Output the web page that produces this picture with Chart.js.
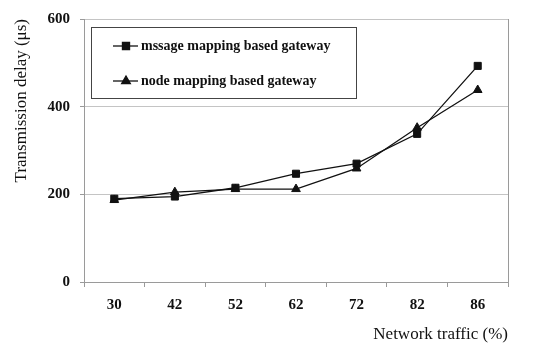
<!DOCTYPE html>
<html><head><meta charset="utf-8">
<script src="https://cdn.jsdelivr.net/npm/chart.js@4.4.1/dist/chart.umd.min.js"></script>
<style>html,body{margin:0;padding:0;background:#fff}#wrap{width:541px;height:347px;position:relative}</style>
</head><body><div id="wrap"><canvas id="c"></canvas></div>
<script>
const categories = ['30','42','52','62','72','82','86'];
const messageMapping = [190, 195, 215, 247, 270, 338, 493];
const nodeMapping = [187, 205, 212, 212, 259, 352, 438];
const yTicks = [0, 200, 400, 600];
const seriesLabels = ['mssage mapping based gateway', 'node mapping based gateway'];

const serif = "'Liberation Serif', 'Times New Roman', serif";
const gridGray = '#c4c4c4';

const frame = {
  id: 'frame',
  beforeDatasetsDraw(chart) {
    const {ctx, chartArea: a} = chart;
    ctx.save();
    ctx.strokeStyle = '#9a9a9a';
    ctx.lineWidth = 1;
    ctx.beginPath();
    ctx.moveTo(Math.round(a.right) + 0.5, a.top);
    ctx.lineTo(Math.round(a.right) + 0.5, a.bottom);
    ctx.stroke();
    ctx.restore();
  }
};

const boxLegend = {
  id: 'boxLegend',
  afterDraw(chart) {
    const {ctx} = chart;
    const bx = 91, by = 27, bw = 265, bh = 71;
    ctx.save();
    ctx.fillStyle = '#fff';
    ctx.fillRect(bx, by, bw, bh);
    ctx.strokeStyle = '#444';
    ctx.lineWidth = 1;
    ctx.strokeRect(bx + 0.5, by + 0.5, bw, bh);
    const rows = [46, 81];
    chart.data.datasets.forEach((ds, i) => {
      const y = rows[i];
      ctx.strokeStyle = '#111';
      ctx.lineWidth = 1.3;
      ctx.beginPath();
      ctx.moveTo(113, y);
      ctx.lineTo(138, y);
      ctx.stroke();
      ctx.fillStyle = '#111';
      Chart.helpers.drawPoint(ctx, {pointStyle: ds.pointStyle, radius: ds.pointRadius, borderWidth: 1, rotation: 0}, 126, y);
      ctx.fillStyle = '#111';
      ctx.font = 'bold 14px ' + serif;
      ctx.textBaseline = 'middle';
      ctx.textAlign = 'left';
      ctx.fillText(ds.label, 141, y);
    });
    ctx.restore();
  }
};

new Chart(document.getElementById('c'), {
  type: 'line',
  data: {
    labels: categories,
    datasets: [
      {label: seriesLabels[0], data: messageMapping, borderColor: '#111', backgroundColor: '#111',
       borderWidth: 1.3, pointStyle: 'rect', pointRadius: 5, pointBorderWidth: 1, tension: 0},
      {label: seriesLabels[1], data: nodeMapping, borderColor: '#111', backgroundColor: '#111',
       borderWidth: 1.3, pointStyle: 'triangle', pointRadius: 5, pointBorderWidth: 1, tension: 0}
    ]
  },
  options: {
    responsive: true,
    maintainAspectRatio: false,
    animation: false,
    devicePixelRatio: 1,
    layout: {padding: {top: 19, right: 33, bottom: 2, left: 0}},
    plugins: {legend: {display: false}, tooltip: {enabled: false}},
    scales: {
      x: {
        offset: true,
        grid: {offset: true, drawOnChartArea: false, color: gridGray, tickLength: 5, tickColor: '#9a9a9a'},
        border: {color: '#9a9a9a'},
        ticks: {color: '#111', font: {family: serif, size: 15, weight: 'bold'}, padding: 9},
        title: {display: true, text: 'Network traffic (%)', align: 'end', color: '#111',
                font: {family: serif, size: 17}, padding: {top: 0, bottom: 0}},
        afterFit(s) { s.height = 63; }
      },
      y: {
        min: 0, max: 600,
        afterBuildTicks(s) { s.ticks = yTicks.map(v => ({value: v})); },
        grid: {color: gridGray, tickLength: 4, tickColor: '#9a9a9a'},
        border: {color: '#9a9a9a'},
        ticks: {color: '#111', font: {family: serif, size: 15, weight: 'bold'}, padding: 10},
        title: {display: true, text: 'Transmission delay (μs)', align: 'end', color: '#111',
                font: {family: serif, size: 17}, padding: {top: 11, bottom: 0}},
        afterFit(s) { s.width = 84; }
      }
    }
  },
  plugins: [frame, boxLegend]
});
</script></body></html>
